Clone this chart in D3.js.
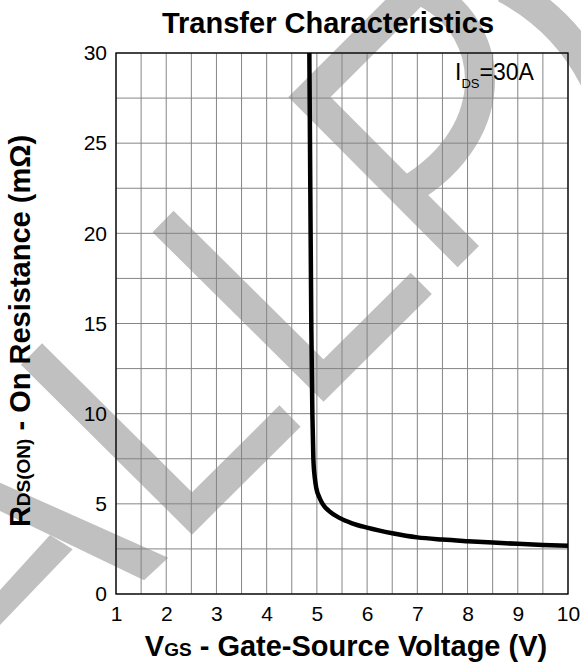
<!DOCTYPE html>
<html>
<head>
<meta charset="utf-8">
<script src="https://cdn.jsdelivr.net/npm/d3@7"></script>
<style>
  html, body { margin: 0; padding: 0; background: #fff; }
  svg { display: block; font-family: "Liberation Sans", Arial, sans-serif; }
</style>
</head>
<body>
<div id="chart"></div>
<script>
// Dados (VGS em V, RDS(on) em mOhm)
const vgs   = [4.85, 4.87, 4.89, 4.91, 4.93, 4.96, 4.99, 5.05, 5.12, 5.25, 5.45, 5.7, 6.0, 6.5, 7.0, 7.5, 8.0, 8.5, 9.0, 9.5, 10];
const rdson = [30, 22, 14.6, 10, 7.5, 6.4, 5.85, 5.35, 4.97, 4.58, 4.22, 3.92, 3.68, 3.37, 3.14, 3.02, 2.93, 2.85, 2.78, 2.72, 2.67];

const xTicks = [1, 2, 3, 4, 5, 6, 7, 8, 9, 10];
const yTicks = [0, 5, 10, 15, 20, 25, 30];
const xGrid = d3.range(1, 10.001, 0.5);
const yGrid = d3.range(0, 30.001, 2.5);

const width = 581;
const height = 663;
const margin = { top: 53, right: 13, bottom: 69, left: 116 };
const innerW = width - margin.left - margin.right;
const innerH = height - margin.top - margin.bottom;

const svg = d3.select('#chart')
  .append('svg')
  .attr('width', width)
  .attr('height', height);

// Marca d'água cinza (decoração de fundo)
const wm = svg.append('g')
  .attr('fill', 'none')
  .attr('stroke', '#c0c0c0')
  .attr('stroke-width', 30)
  .attr('stroke-linejoin', 'miter')
  .attr('stroke-linecap', 'butt');

wm.append('path').attr('d', 'M163,221.5 L323.5,380.5 L421.3,283.3');
wm.append('path').attr('d', 'M31.5,354 L192,513.5 L290,416');
wm.append('path').attr('d', 'M429.5,-23 L309.5,97 L468.3,256.7');
wm.append('path').attr('d', 'M425,-8 C500,30 505,140 398,196');
wm.append('path').attr('d', 'M505,-12 Q565,20 595,80');
wm.append('path')
  .attr('stroke', 'none')
  .attr('fill', '#c0c0c0')
  .attr('d', 'M0,482.7 L168.3,557.7 L144,580.3 L0,511 Z');
wm.append('path')
  .attr('stroke', 'none')
  .attr('fill', '#c0c0c0')
  .attr('d', 'M50,535 L72.7,549.3 L0,625 L0,590 Z');

const g = svg.append('g')
  .attr('transform', `translate(${margin.left},${margin.top})`);

const x = d3.scaleLinear().domain([1, 10]).range([0, innerW]);
const y = d3.scaleLinear().domain([0, 30]).range([innerH, 0]);

// Grade
g.append('g')
  .selectAll('line')
  .data(xGrid)
  .join('line')
  .attr('x1', d => x(d)).attr('x2', d => x(d))
  .attr('y1', 0).attr('y2', innerH)
  .attr('stroke', '#858585')
  .attr('stroke-width', 1);

g.append('g')
  .selectAll('line')
  .data(yGrid)
  .join('line')
  .attr('x1', 0).attr('x2', innerW)
  .attr('y1', d => y(d)).attr('y2', d => y(d))
  .attr('stroke', '#858585')
  .attr('stroke-width', 1);

// Moldura
g.append('rect')
  .attr('width', innerW)
  .attr('height', innerH)
  .attr('fill', 'none')
  .attr('stroke', '#000')
  .attr('stroke-width', 1.3);

// Eixos (apenas rótulos)
const xAxis = g.append('g')
  .attr('transform', `translate(0,${innerH})`)
  .call(d3.axisBottom(x).tickValues(xTicks).tickSize(0).tickPadding(12).tickFormat(d3.format('d')));
const yAxis = g.append('g')
  .call(d3.axisLeft(y).tickValues(yTicks).tickSize(0).tickPadding(9).tickFormat(d3.format('d')));

[xAxis, yAxis].forEach(a => {
  a.select('.domain').remove();
  a.selectAll('text')
    .attr('fill', '#000')
    .style('font-size', '21px')
    .style('font-family', '"Liberation Sans", Arial, sans-serif');
});

// Curva RDS(on) x VGS
const points = vgs.map((v, i) => [v, rdson[i]]);
const line = d3.line()
  .x(d => x(d[0]))
  .y(d => y(d[1]))
  .curve(d3.curveMonotoneX);

g.append('path')
  .datum(points)
  .attr('d', line)
  .attr('fill', 'none')
  .attr('stroke', '#000')
  .attr('stroke-width', 4.5)
  .attr('stroke-linejoin', 'round');

// Anotação IDS=30A
const ann = svg.append('text')
  .attr('x', 455)
  .attr('y', 80)
  .attr('fill', '#000')
  .style('font-size', '23px');
ann.append('tspan').text('I');
ann.append('tspan').attr('dy', 8).style('font-size', '13px').text('DS');
ann.append('tspan').attr('dy', -8).text('=30A');

// Título
svg.append('text')
  .attr('x', 328)
  .attr('y', 33)
  .attr('text-anchor', 'middle')
  .style('font-size', '29px')
  .style('font-weight', 'bold')
  .text('Transfer Characteristics');

// Título do eixo X
const xt = svg.append('text')
  .attr('x', 346)
  .attr('y', 656)
  .attr('text-anchor', 'middle')
  .style('font-size', '29px')
  .style('font-weight', 'bold');
xt.append('tspan').text('V');
xt.append('tspan').style('font-size', '19px').text('GS');
xt.append('tspan').text(' - Gate-Source Voltage (V)');

// Título do eixo Y
const yt = svg.append('text')
  .attr('transform', 'translate(30,331) rotate(-90)')
  .attr('text-anchor', 'middle')
  .style('font-size', '29px')
  .style('font-weight', 'bold');
yt.append('tspan').text('R');
yt.append('tspan').style('font-size', '19px').text('DS(ON)');
yt.append('tspan').text(' - On Resistance (mΩ)');
</script>
</body>
</html>
